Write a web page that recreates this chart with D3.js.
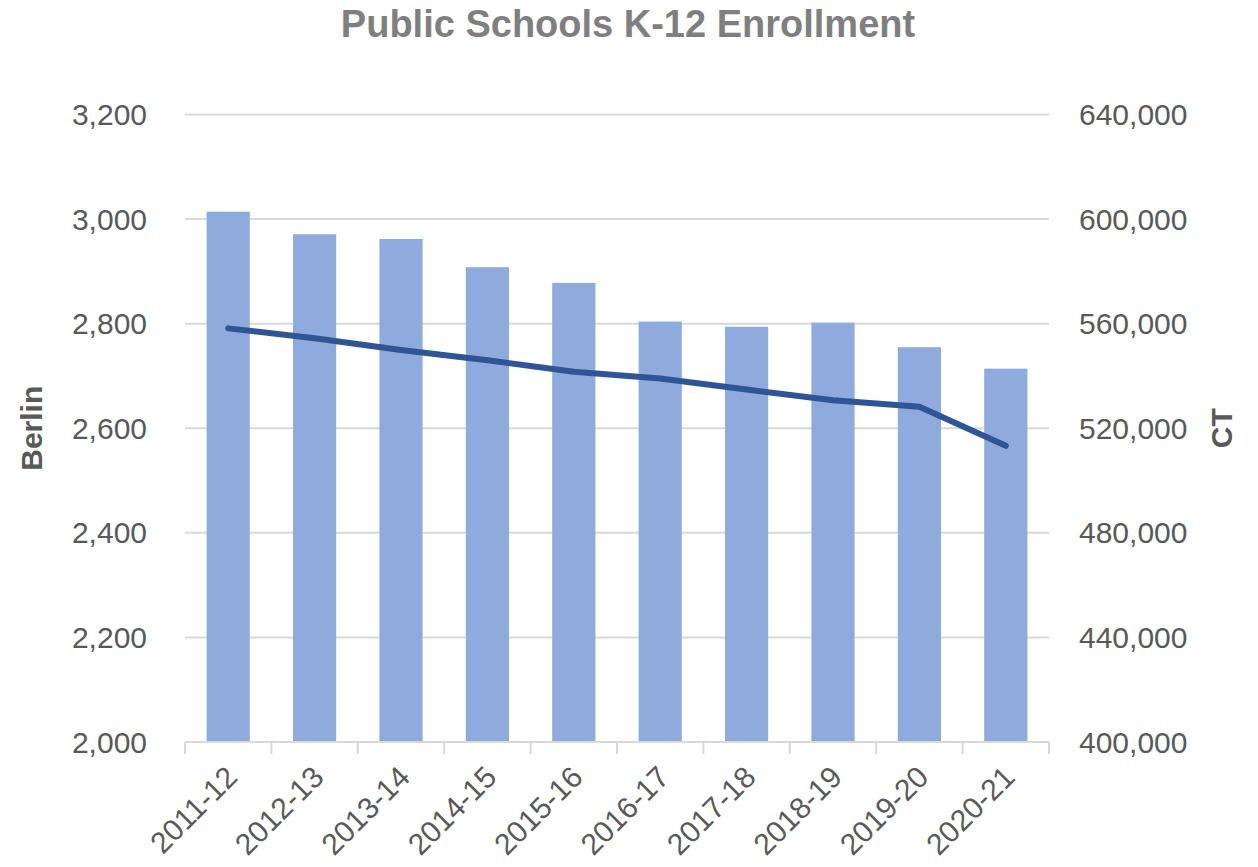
<!DOCTYPE html>
<html>
<head>
<meta charset="utf-8">
<script src="https://cdn.jsdelivr.net/npm/d3@7"></script>
<style>
body { margin: 0; background: #fff; }
text { font-family: "Liberation Sans", Arial, sans-serif; }
</style>
</head>
<body>
<svg id="chart" width="1258" height="867"></svg>
<script>
var years = ["2011-12", "2012-13", "2013-14", "2014-15", "2015-16",
	"2016-17", "2017-18", "2018-19", "2019-20", "2020-21"];
var berlin = [3014, 2971, 2962, 2908, 2878, 2804, 2794, 2802, 2755, 2714];
var ct = [558200, 554400, 549900, 546000, 541600, 539000, 534800, 530700, 528200, 513300];
var leftTicks = [2000, 2200, 2400, 2600, 2800, 3000, 3200];
var rightTicks = [400000, 440000, 480000, 520000, 560000, 600000, 640000];

var margin = {top: 114.5, left: 185, right: 209, bottom: 125};
var width = 1258 - margin.left - margin.right,
	height = 867 - margin.top - margin.bottom;

var svg = d3.select("#chart");
var g = svg.append("g")
	.attr("transform", "translate(" + margin.left + "," + margin.top + ")");

var x = d3.scaleBand()
	.domain(years)
	.range([0, width])
	.paddingInner(0.5)
	.paddingOuter(0.25);

var yL = d3.scaleLinear().domain([2000, 3200]).range([height, 0]);
var yR = d3.scaleLinear().domain([400000, 640000]).range([height, 0]);

var fmt = d3.format(",");

// gridlines
g.selectAll(".grid")
	.data(leftTicks.slice(1))
.enter().append("line")
	.attr("class", "grid")
	.attr("x1", 0).attr("x2", width)
	.attr("y1", function(d) { return yL(d); })
	.attr("y2", function(d) { return yL(d); })
	.attr("stroke", "#d9d9d9")
	.attr("stroke-width", 2);

// bars
g.selectAll(".bar")
	.data(berlin)
.enter().append("rect")
	.attr("class", "bar")
	.attr("x", function(d, i) { return x(years[i]); })
	.attr("width", x.bandwidth())
	.attr("y", function(d) { return yL(d); })
	.attr("height", function(d) { return height - yL(d); })
	.attr("fill", "#8faadc");

// bottom axis line + ticks between categories
g.append("line")
	.attr("x1", 0).attr("x2", width)
	.attr("y1", height).attr("y2", height)
	.attr("stroke", "#d9d9d9")
	.attr("stroke-width", 2);

g.selectAll(".xtick")
	.data(d3.range(years.length + 1))
.enter().append("line")
	.attr("class", "xtick")
	.attr("x1", function(d) { return d * width / years.length; })
	.attr("x2", function(d) { return d * width / years.length; })
	.attr("y1", height).attr("y2", height + 12)
	.attr("stroke", "#d9d9d9")
	.attr("stroke-width", 2);

// line
var line = d3.line()
	.x(function(d, i) { return x(years[i]) + x.bandwidth() / 2; })
	.y(function(d) { return yR(d); });

g.append("path")
	.datum(ct)
	.attr("d", line)
	.attr("fill", "none")
	.attr("stroke", "#2f5597")
	.attr("stroke-width", 6)
	.attr("stroke-linecap", "round")
	.attr("stroke-linejoin", "round");

// left tick labels
g.selectAll(".ltick")
	.data(leftTicks)
.enter().append("text")
	.attr("x", -38)
	.attr("y", function(d) { return yL(d); })
	.attr("dy", "0.35em")
	.attr("text-anchor", "end")
	.attr("fill", "#595959")
	.style("font-size", "30px")
	.text(function(d) { return fmt(d); });

// right tick labels
g.selectAll(".rtick")
	.data(rightTicks)
.enter().append("text")
	.attr("x", width + 30)
	.attr("y", function(d) { return yR(d); })
	.attr("dy", "0.35em")
	.attr("text-anchor", "start")
	.attr("fill", "#595959")
	.style("font-size", "30px")
	.text(function(d) { return fmt(d); });

// category labels
g.selectAll(".xlab")
	.data(years)
.enter().append("text")
	.attr("transform", function(d) {
		return "translate(" + (x(d) + x.bandwidth() / 2 - 4) + "," + (height + 22) + ") rotate(-45)";
	})
	.attr("text-anchor", "end")
	.attr("dy", "0.7em")
	.attr("fill", "#595959")
	.style("font-size", "30px")
	.text(function(d) { return d; });

// axis titles
svg.append("text")
	.attr("transform", "translate(42," + (margin.top + height / 2) + ") rotate(-90)")
	.attr("text-anchor", "middle")
	.attr("fill", "#595959")
	.style("font-size", "30px")
	.style("font-weight", "bold")
	.text("Berlin");

svg.append("text")
	.attr("transform", "translate(1232," + (margin.top + height / 2) + ") rotate(-90)")
	.attr("text-anchor", "middle")
	.attr("fill", "#595959")
	.style("font-size", "30px")
	.style("font-weight", "bold")
	.text("CT");

// title
svg.append("text")
	.attr("x", 628)
	.attr("y", 37)
	.attr("text-anchor", "middle")
	.attr("fill", "#7f7f7f")
	.style("font-size", "38px")
	.style("font-weight", "bold")
	.text("Public Schools K-12 Enrollment");
</script>
</body>
</html>
